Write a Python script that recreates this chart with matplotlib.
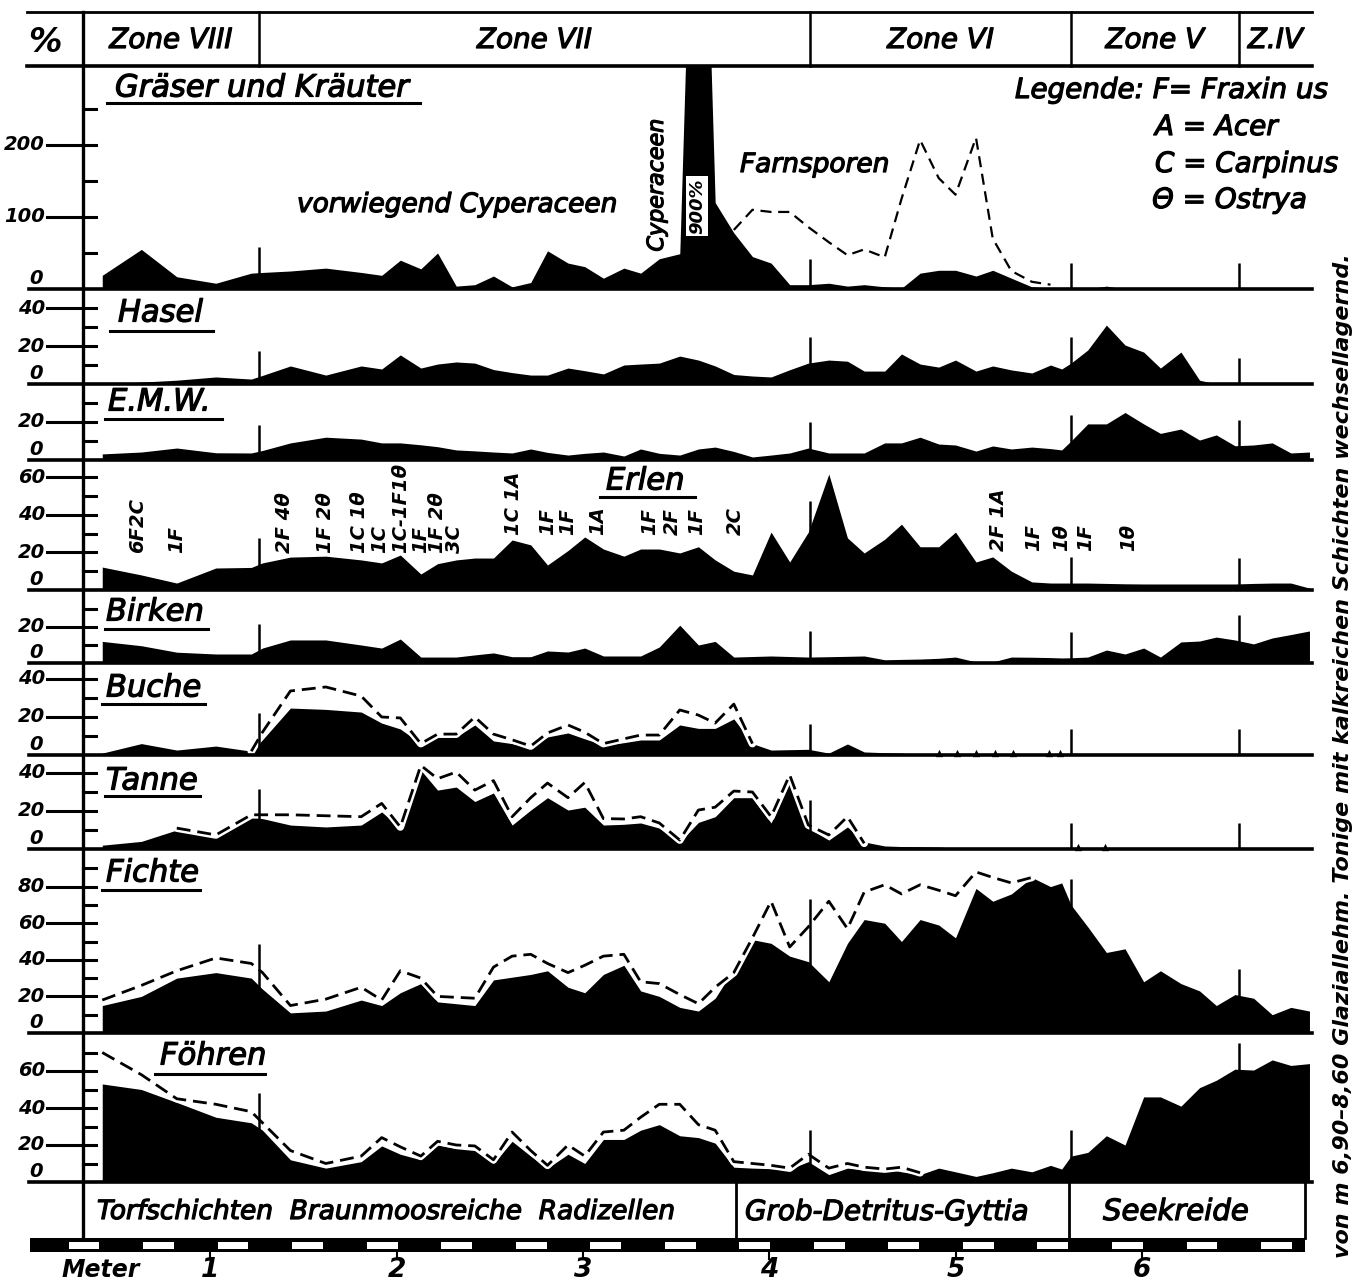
import numpy as np
import matplotlib
matplotlib.use("Agg")
import matplotlib.pyplot as plt
import matplotlib.transforms as mtrans
import matplotlib.patheffects as pe

W, H = 1359, 1284
plt.rcParams['font.family'] = ['DejaVu Sans']
plt.rcParams['font.style'] = 'italic'
n = np.nan

# ---- data: depth of the samples in metres, pollen values in % ----
depth = [0.42, 0.63, 0.82, 1.03, 1.22, 1.28, 1.43, 1.62, 1.81, 1.92,
         2.02, 2.13, 2.22, 2.32, 2.42, 2.52, 2.62, 2.72, 2.81, 2.92,
         3.01, 3.11, 3.22, 3.31, 3.41, 3.52, 3.62, 3.71, 3.81, 3.91,
         4.01, 4.11, 4.21, 4.32, 4.42, 4.51, 4.62, 4.71, 4.81, 4.91,
         5.00, 5.11, 5.20, 5.30, 5.41, 5.51, 5.57, 5.62, 5.71, 5.81,
         5.91, 6.01, 6.10, 6.21, 6.31, 6.40, 6.50, 6.60, 6.70, 6.80,
         6.90]

graeser = [19, 55, 17, 8, 22, 23, 25, 29, 23, 19,
           40, 28, 50, 4, 6, 18, 3, 9, 53, 36,
           31, 15, 29, 22, 42, 49, 900, 120, 78, 45,
           36, 6, 6, 8, 4, 6, 3, 1, 22, 26,
           26, 18, 26, 15, 3, 1, 0, 0, 0, 4,
           0, 0, 0, 0, 0, 0, 0, 0, 0, 0, 0]
farnsporen = [n] * 28 + [82, 110,
              107, 107, 86, 65, 47, 55, 44, 125, 207, 154,
              131, 210, 70, 25, 10, 6] + [n] * 15

hasel = [0, 1, 2, 3.7, 2.6, 4.5, 9.5, 4.7, 9.5, 7.9,
         15.3, 8.4, 10.5, 11.6, 11, 7.6, 6, 4.7, 4.7, 8.4,
         7, 5.3, 10, 10.5, 11, 14.7, 12.6, 9.5, 5, 4.2,
         3.7, 7.5, 11, 12.6, 12, 6.8, 6.8, 15.8, 10.5, 8.9,
         12.6, 6.8, 9.5, 7.4, 5.8, 10, 7.9, 11, 17.9, 31,
         20.5, 16.8, 8.4, 16.8, 2, 0, 0, 0, 0, 0, 0]

emw = [3.2, 4.2, 6.3, 3.8, 3.7, 5, 9, 12, 11, 9,
       9, 8, 7, 5.3, 4.8, 4.2, 3.7, 5.8, 4, 2.6,
       3.5, 4.2, 2.1, 5.8, 3.5, 2.6, 5.8, 6.8, 4.5, 1.6,
       2.6, 3.7, 6.3, 3.7, 3.7, 3.7, 9, 9, 12, 8.4,
       7.9, 4.7, 7.4, 5.8, 6.8, 6, 5.3, 10, 19, 19,
       25, 19, 14, 16.3, 10.5, 13.2, 7.5, 7.9, 9, 3.7, 4.2]

erlen = [12.2, 8, 3.7, 11.7, 12, 14.4, 17.5, 18, 16, 14.4,
         18.6, 8.5, 14, 16, 17, 17, 26.6, 24, 13.3, 21,
         28.2, 21.8, 18, 21.8, 21.8, 19.7, 23, 16, 10, 8,
         30.8, 14.9, 30.8, 61.7, 27.7, 19.7, 27, 35, 23, 23,
         30.8, 14.9, 17.6, 10, 4.3, 3.7, 3.7, 3.7, 3.7, 3.5,
         3.3, 3.2, 3.2, 3.2, 3.2, 3.2, 3.2, 3.5, 3.7, 3.7, 1]

birken = [12, 9.6, 6, 5, 5, 8.3, 12.8, 12.8, 10, 8.3,
          13.3, 3.3, 3.3, 3.3, 4.5, 5.6, 3.5, 3.5, 6.7, 6.1,
          8.3, 3.9, 3.9, 3.9, 8.9, 21, 10, 12, 3.3, 3.6,
          3.9, 3.6, 3.3, 3.5, 3.7, 3.9, 1.8, 2, 2.2, 2.6,
          3.3, 0.6, 0.6, 3.3, 3.2, 3, 2.8, 2.9, 3.3, 7.2,
          5, 8.3, 3.3, 11.7, 12.2, 14.4, 12.8, 10.6, 13.9, 15.8, 17.8]

buche = [1, 6, 2.6, 4.7, 2, 8, 24.7, 24, 22.6, 16.8,
         13.7, 6, 9.5, 9.5, 15.8, 7.4, 6, 4.2, 9.5, 11.6,
         8.5, 5.3, 6.5, 7.9, 7.9, 15.8, 14, 14, 19, 6,
         2.6, 2.8, 3, 1, 5.8, 1.6, 1.2, 1, 0, 0] + [0] * 21
buche_dash = [n, n, n, n, 2, 12, 33.7, 35.8, 31, 20,
              19.5, 6, 11, 11, 20, 11, 8, 4.7, 11.6, 15.8,
              12, 6, 8.5, 10.5, 10.5, 23.7, 21, 16.8, 26.8, 6] + [n] * 31
buche_spuren = [4.91, 5.01, 5.11, 5.21, 5.31, 5.50, 5.56]

tanne = [2, 4, 10, 6, 17, 16, 12.6, 11.6, 12.6, 19.5,
         11, 41.5, 31, 32.6, 25, 29.5, 12.6, 20.5, 27, 20.5,
         22, 12.6, 13, 13.7, 11, 3.7, 14, 17, 27, 27,
         13.7, 35, 11, 4.7, 11.6, 3.7, 1.6, 1.3, 1.2, 1,
         0.5] + [0] * 20
tanne_dash = [n, n, 11, 7.4, 18, 18, 18, 17.5, 17, 24,
              11.6, 44, 37, 40.5, 31, 36, 17, 27, 34.7, 27,
              35, 16, 15.8, 17, 13.7, 4.7, 20.5, 22, 30.5, 30,
              17, 39, 12.6, 7.4, 17, 3] + [n] * 25
tanne_spuren = [5.66, 5.80]

fichte = [15, 20, 30, 33, 30, 24, 11, 12, 18, 15,
          22, 27, 17, 16, 15, 29, 30.5, 32, 34, 25,
          22, 32, 37, 23, 20, 14, 12, 19, 35, 51,
          49, 42, 39, 28, 49, 62, 60, 50, 62, 59,
          52, 79, 72, 76, 85, 80, 82, 70, 58, 44,
          46, 28, 34, 27, 23, 15, 21, 19, 10, 14, 12]
fichte_dash = [18, 26, 34, 41, 38, 33, 15, 18.5, 25, 18,
               34, 30, 20, 19.5, 19, 36, 42, 43, 38, 33,
               37, 42, 43, 28, 27, 21, 16, 25, 33, 52,
               72, 47, 58, 72, 57, 77, 81, 76, 81, 78,
               75, 88, 85, 82, 85] + [n] * 16

foehren = [53, 50, 43, 35, 32, 28, 12, 7.5, 11, 19.5,
           15, 12, 20, 18, 17, 10, 22, 14, 7.5, 15,
           10, 23, 23, 28, 31, 25, 24, 21, 8, 7.5,
           7.2, 7, 11, 4, 7.5, 6.5, 7.5, 5.5, 4, 7.5,
           5.5, 3, 5, 7.5, 5.5, 9, 7, 14, 16, 25,
           20, 46, 46, 41, 51, 55, 61, 60.5, 66, 63, 64]
foehren_dash = [70, 58, 45, 42, 38, 32, 17, 10, 14, 24,
                19, 14, 22, 20, 19.5, 12, 27, 17, 9, 20,
                14, 27, 28, 35, 42, 42, 31, 28, 11, 10,
                9, 7.5, 15, 7.5, 10, 8, 7, 8, 5] + [n] * 22

zone_bounds = [1.26, 4.22, 5.62, 6.52]
zone_names = ['Zone VIII', 'Zone VII', 'Zone VI', 'Zone V', 'Z.IV']
sediment_bounds = [3.82, 5.61]
sediment_names = ['Torfschichten  Braunmoosreiche  Radizellen',
                  'Grob-Detritus-Gyttia', 'Seekreide']

# Erlen notes on the admixed trees (position in m, height in %)
erlen_pos = [0.61, 0.82, 1.40, 1.62, 1.80, 1.91, 2.02, 2.13, 2.22, 2.31,
             2.63, 2.81, 2.92, 3.08, 3.36, 3.48, 3.61, 3.82,
             5.23, 5.42, 5.57, 5.70, 5.93]
erlen_lvl = [19.5] * 10 + [29.5] * 8 + [21] * 5
erlen_txt = ['6F2C', '1F', '2F 4θ', '1F 2θ', '1C 1θ', '1C', '1C-1F1θ', '1F', '1F 2θ', '3C',
             '1C 1A', '1F', '1F', '1A', '1F', '2F', '1F', '2C',
             '2F 1A', '1F', '1θ', '1F', '1θ']


# ---- layout (pixels of the 1359 x 1284 picture) ----
def px2m(px):
    return (px - 24) / 186.3

X0, X1 = 83, 1312
xlim = (px2m(X0), px2m(X1))
heavy = [pe.withStroke(linewidth=0.9, foreground='black')]

fig = plt.figure(figsize=(W / 100, H / 100), dpi=100)

# name, solid, dashed, top px, bottom px, px per %, major ticks, minor ticks, label x, label y
panels = [
    ('Gräser und Kräuter', graeser, farnsporen, 66, 289, 0.72, [100, 200], [50, 150, 250], 115, 88),
    ('Hasel', hasel, None, 289, 384, 1.9, [20, 40], [10, 30], 118, 313),
    ('E.M.W.', emw, None, 384, 460, 1.9, [20], [10, 30], 108, 402),
    ('Erlen', erlen, None, 460, 590, 1.88, [20, 40, 60], [10, 30, 50], 606, 481),
    ('Birken', birken, None, 590, 663, 1.8, [20], [10, 30], 106, 612),
    ('Buche', buche, buche_dash, 663, 755, 1.9, [20, 40], [10, 30], 106, 688),
    ('Tanne', tanne, tanne_dash, 755, 849, 1.9, [20, 40], [10, 30], 106, 781),
    ('Fichte', fichte, fichte_dash, 849, 1033, 1.83, [20, 40, 60, 80], [10, 30, 50, 70, 90], 106, 873),
    ('Föhren', foehren, foehren_dash, 1033, 1182, 1.85, [20, 40, 60], [10, 30, 50, 70], 160, 1056),
]

axes = []
for name, solid, dashed, top, bot, scale, majors, minors, lx, ly in panels:
    ax = fig.add_axes([X0 / W, 1 - bot / H, (X1 - X0) / W, (bot - top) / H])
    ax.set_xlim(xlim)
    ax.set_ylim(0, (bot - top) / scale)
    ax.set_axis_off()
    ax.fill_between(depth, solid, 0, color='black', lw=0)
    if dashed is not None:
        if name.startswith('Gräser'):
            ax.plot(depth, dashed, color='black', lw=1.6, dashes=(5, 3))
        else:
            ax.plot(depth, dashed, color='white', lw=5.5, solid_capstyle='round')
            ax.plot(depth, dashed, color='black', lw=2.0, dashes=(5, 2.5))
    # zone marks sticking out of the curves
    for b in zone_bounds:
        top_val = np.interp(b, depth, solid)
        if dashed is not None and not name.startswith('Gräser'):
            d = np.interp(b, depth, np.nan_to_num(np.array(dashed, dtype=float)))
            top_val = max(top_val, d)
        ax.vlines(b, 0, min(top_val + 26 / scale, (bot - top) / scale), color='black', lw=1.8)
    axes.append(ax)

erlen_ax = axes[3]
for p, lv, t in zip(erlen_pos, erlen_lvl, erlen_txt):
    erlen_ax.text(p, lv, t, rotation=90, ha='center', va='bottom', fontsize=14,
                  fontweight='bold', clip_on=False)

axes[5].scatter(buche_spuren, [0.9] * len(buche_spuren), marker='^', s=28, color='black',
                lw=0, clip_on=False)
axes[6].scatter(tanne_spuren, [0.9] * len(tanne_spuren), marker='^', s=28, color='black',
                lw=0, clip_on=False)

# ---- overlay in pixel coordinates for frame, ticks and lettering ----
ov = fig.add_axes([0, 0, 1, 1], facecolor='none')
ov.set_xlim(0, W)
ov.set_ylim(H, 0)
ov.set_axis_off()

for (name, solid, dashed, top, bot, scale, majors, minors, lx, ly), ax in zip(panels, axes):
    tr = mtrans.blended_transform_factory(ov.transData, ax.transData)
    for v in majors:
        ax.plot([47, 96], [v, v], color='black', lw=2.2, transform=tr, clip_on=False)
        ax.text(45, v, str(v), transform=tr, ha='right', va='center', fontsize=14,
                fontweight='bold')
    for v in minors:
        ax.plot([83, 96], [v, v], color='black', lw=2.2, transform=tr, clip_on=False)
    ax.annotate('0', xy=(43, 0), xycoords=tr, xytext=(0, 1), textcoords='offset points',
                ha='right', va='bottom', fontsize=14, fontweight='bold')
    # panel separator
    ov.plot([29, X1], [bot, bot], color='black', lw=2.6)
    # underlined name
    ov.text(lx, ly, name, ha='left', va='center', fontsize=22, path_effects=heavy)

underlines = [(107, 420, 103), (110, 213, 331), (105, 222, 419), (600, 695, 497),
              (105, 208, 629), (102, 205, 704), (105, 200, 796), (102, 200, 890), (155, 265, 1074)]
for a, b, y in underlines:
    ov.plot([a, b], [y, y], color='black', lw=2.2)

# header with the zones
ov.plot([27, X1], [12, 12], color='black', lw=2)
ov.plot([27, X1], [66, 66], color='black', lw=2.6)
ov.plot([X0, X0], [12, 1238], color='black', lw=2.4)
zone_px = [X0] + [24 + 186.3 * b for b in zone_bounds] + [X1]
for zp in zone_px[1:-1]:
    ov.plot([zp, zp], [12, 66], color='black', lw=1.8)
for i, z in enumerate(zone_names):
    ov.text((zone_px[i] + zone_px[i + 1]) / 2, 40, z, ha='center', va='center', fontsize=20,
            path_effects=heavy)
ov.text(45, 42, '%', ha='center', va='center', fontsize=24, fontweight='bold')

# annotations in the grass panel
ov.text(297, 205, 'vorwiegend Cyperaceen', ha='left', va='center', fontsize=19, path_effects=heavy)
ov.text(657, 185, 'Cyperaceen', ha='center', va='center', rotation=90, fontsize=16,
        path_effects=heavy)
ov.text(697, 206, '900%', ha='center', va='center', rotation=90, fontsize=13,
        fontweight='bold', bbox=dict(facecolor='white', edgecolor='none', pad=1.5))
ov.text(740, 165, 'Farnsporen', ha='left', va='center', fontsize=19, path_effects=heavy)
ov.text(1015, 90, 'Legende: F= Fraxin us', ha='left', va='center', fontsize=20, path_effects=heavy)
ov.text(1155, 127, 'A = Acer', ha='left', va='center', fontsize=20, path_effects=heavy)
ov.text(1155, 164, 'C = Carpinus', ha='left', va='center', fontsize=20, path_effects=heavy)
ov.text(1152, 200, 'Θ = Ostrya', ha='left', va='center', fontsize=20, path_effects=heavy)

# sediment row
sed_px = [X0] + [24 + 186.3 * b for b in sediment_bounds] + [1305]
for sp in sed_px[1:]:
    ov.plot([sp, sp], [1182, 1238], color='black', lw=2)
sed_x = [97, 745, 1103]
sed_fs = [19, 20, 21]
for x, s, fs in zip(sed_x, sediment_names, sed_fs):
    ov.text(x, 1212, s, ha='left', va='center', fontsize=fs, path_effects=heavy)

# vertical note on the right
ov.text(1343, 756, 'von m 6,90\u20138,60 Glaziallehm. Tonige mit kalkreichen Schichten wechsellagernd.',
        rotation=90, ha='center', va='center', fontsize=16, fontweight='bold')

# metre scale
axm = fig.add_axes([24 / W, 1 - 1290 / H, (X1 - 24) / W, (1290 - 1236) / H])
axm.set_xlim(0, px2m(X1))
axm.set_ylim(1290, 1236)
axm.set_axis_off()
axm.fill_between([px2m(30), px2m(1305)], 1238, 1252, color='black', lw=0)
for k in range(17):
    x = 0.24 + 0.4 * k
    axm.fill_between([x, x + 0.165], 1241.5, 1249, color='white', lw=0)
for k in range(1, 7):
    axm.plot([k, k], [1252, 1259], color='black', lw=1.5)
    axm.text(k, 1270, str(k), ha='center', va='center', fontsize=19, fontweight='bold')
axm.text(px2m(62), 1270, 'Meter', ha='left', va='center', fontsize=17, fontweight='bold')

fig.savefig('out.png', dpi=100)
